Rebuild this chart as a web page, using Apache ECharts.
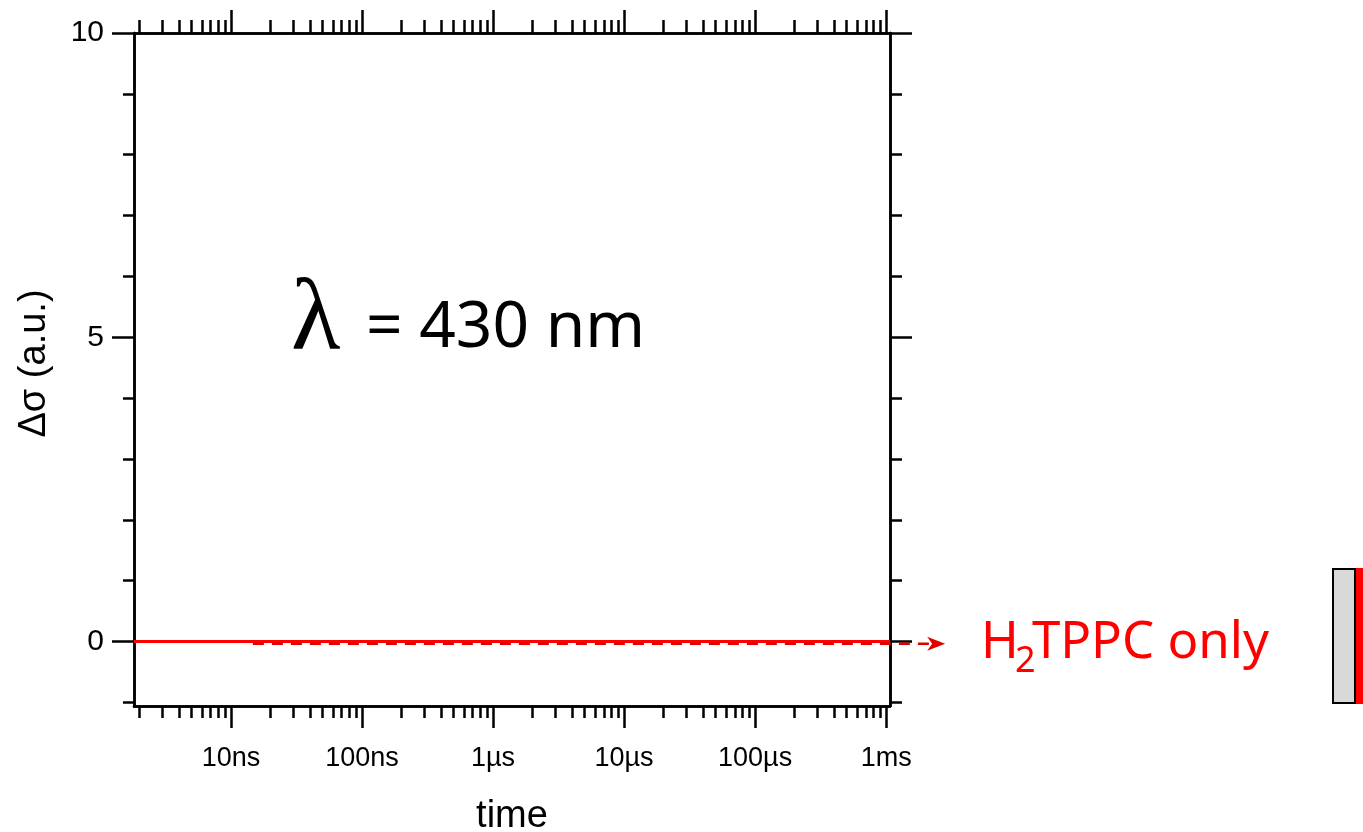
<!DOCTYPE html>
<html>
<head>
<meta charset="utf-8">
<script src="https://cdn.jsdelivr.net/npm/echarts@6/dist/echarts.min.js"></script>
<style>html,body{margin:0;padding:0;background:#fff;}#c{width:1363px;height:832px;}</style>
</head>
<body>
<div id="c"></div>
<script>
// ---- data (times in seconds) ----
var timeRange = [1.82e-9, 1.07e-3];
var majorTimes = [1e-8, 1e-7, 1e-6, 1e-5, 1e-4, 1e-3];
var majorLabels = ['10ns', '100ns', '1\u00b5s', '10\u00b5s', '100\u00b5s', '1ms'];
var minorMultipliers = [2, 3, 4, 5, 6, 7, 8, 9];
var minorDecades = [1e-9, 1e-8, 1e-7, 1e-6, 1e-5, 1e-4];
var yRange = [-1.06, 10];
var yMajorTicks = [0, 5, 10];
var yMinorTicks = [-1, 0, 1, 2, 3, 4, 5, 6, 7, 8, 9, 10];
// solid red trace (H2TPPC signal, flat at zero)
var traceTimes = [1.82e-9, 1.07e-3];
var traceValues = [0, 0];
// dashed annotation arrow towards the label: [start time, tip time, level]
var arrowStart = 1.47e-8;
var arrowTip = 2.82e-3;
var arrowLevel = -0.035;

var lg = function (t) { return Math.log10(t); };
var xMin = lg(timeRange[0]), xMax = lg(timeRange[1]);
var majorLog = majorTimes.map(lg);
var minorLog = [];
minorDecades.forEach(function (d) {
  minorMultipliers.forEach(function (m) {
    var v = lg(d * m);
    if (v >= xMin && v <= xMax) minorLog.push(v);
  });
});

function xLabel(v) {
  for (var i = 0; i < majorLog.length; i++) {
    if (Math.abs(majorLog[i] - v) < 1e-6) return majorLabels[i];
  }
  return '';
}

var black = '#000';
var LW = 2.5;
function xAx(pos, ticks, len, showLabel, name) {
  var a = {
    type: 'value', gridIndex: 0, position: pos, min: xMin, max: xMax,
    axisLine: { show: true, onZero: false, lineStyle: { color: black, width: LW } },
    axisTick: { show: true, inside: false, length: len, customValues: ticks, lineStyle: { color: black, width: LW } },
    axisLabel: { show: showLabel, customValues: majorLog, formatter: xLabel, margin: 39,
      fontFamily: 'Liberation Sans', fontSize: 27, color: black },
    splitLine: { show: false }, minorTick: { show: false }
  };
  if (name) {
    a.name = name; a.nameLocation = 'middle'; a.nameGap = 92;
    a.nameTextStyle = { fontFamily: 'Liberation Sans', fontSize: 38, color: black };
  }
  return a;
}
function yAx(pos, ticks, len, showLabel, name) {
  var a = {
    type: 'value', gridIndex: 0, position: pos, min: yRange[0], max: yRange[1],
    axisLine: { show: true, onZero: false, lineStyle: { color: black, width: LW } },
    axisTick: { show: true, inside: false, length: len, customValues: ticks, lineStyle: { color: black, width: LW } },
    axisLabel: { show: showLabel, customValues: yMajorTicks, margin: 30,
      fontFamily: 'Liberation Sans', fontSize: 30, color: black },
    splitLine: { show: false }, minorTick: { show: false }
  };
  if (name) {
    a.name = name; a.nameLocation = 'middle'; a.nameGap = 80;
    a.nameTextStyle = { fontFamily: 'Liberation Sans', fontSize: 38, color: black, padding: [0, 0, 0, 12] };
  }
  return a;
}

var chart = echarts.init(document.getElementById('c'), null, { renderer: 'canvas' });
chart.setOption({
  backgroundColor: '#fff',
  animation: false,
  grid: { left: 134, right: 473, top: 33, bottom: 126, containLabel: false, outerBoundsMode: 'none' },
  xAxis: [
    xAx('bottom', majorLog, 22, true, 'time'),
    xAx('bottom', minorLog, 12, false),
    xAx('top', majorLog, 23, false),
    xAx('top', minorLog, 13, false)
  ],
  yAxis: [
    yAx('left', yMajorTicks, 22, true, '\u0394\u03c3 (a.u.)'),
    yAx('left', yMinorTicks, 11, false),
    yAx('right', yMajorTicks, 22, false),
    yAx('right', yMinorTicks, 12, false)
  ],
  series: [
    {
      type: 'line', xAxisIndex: 0, yAxisIndex: 0, showSymbol: false, symbol: 'none',
      data: traceTimes.map(function (t, i) { return [lg(t), traceValues[i]]; }),
      lineStyle: { color: '#ff0000', width: 2.8 }, z: 3
    },
    {
      type: 'custom', xAxisIndex: 0, yAxisIndex: 0, clip: false, z: 4,
      encode: { x: [0, 1], y: 2 },
      data: [[lg(arrowStart), lg(arrowTip), arrowLevel]],
      renderItem: function (params, api) {
        var p0 = api.coord([api.value(0), api.value(2)]);
        var p1 = api.coord([api.value(1), api.value(2)]);
        var col = '#e00000';
        return {
          type: 'group',
          children: [
            { type: 'line', shape: { x1: p0[0], y1: p0[1], x2: p1[0] - 15, y2: p1[1] },
              style: { stroke: col, lineWidth: 2.5, lineDash: [11, 8] } },
            { type: 'polygon', shape: { points: [[p1[0], p1[1]], [p1[0] - 18, p1[1] - 7], [p1[0] - 13, p1[1]], [p1[0] - 18, p1[1] + 7]] },
              style: { fill: col } }
          ]
        };
      }
    }
  ],
  graphic: [
    { type: 'text', x: 291, y: 322, style: { text: '\u03bb', font: '102px "Liberation Serif"', fill: black, verticalAlign: 'middle' } },
    { type: 'text', x: 366, y: 329, style: { text: '= 430 nm', font: '64px "Noto Sans"', fill: black, verticalAlign: 'middle' } },
    { type: 'text', x: 981, y: 643, style: { text: 'H', font: '51px "Noto Sans"', fill: '#ff0000', verticalAlign: 'middle' } },
    { type: 'text', x: 1015, y: 662, style: { text: '2', font: '36px "Noto Sans"', fill: '#ff0000', verticalAlign: 'middle' } },
    { type: 'text', x: 1269, y: 643, style: { text: 'TPPC only', font: '51px "Noto Sans"', fill: '#ff0000', verticalAlign: 'middle', align: 'right' } },
    { type: 'rect', shape: { x: 1333, y: 569, width: 22, height: 134 }, style: { fill: '#d9d9d9', stroke: '#000', lineWidth: 2 } },
    { type: 'rect', shape: { x: 1356, y: 568, width: 7, height: 136 }, style: { fill: '#ff0000' } }
  ]
});
</script>
</body>
</html>
